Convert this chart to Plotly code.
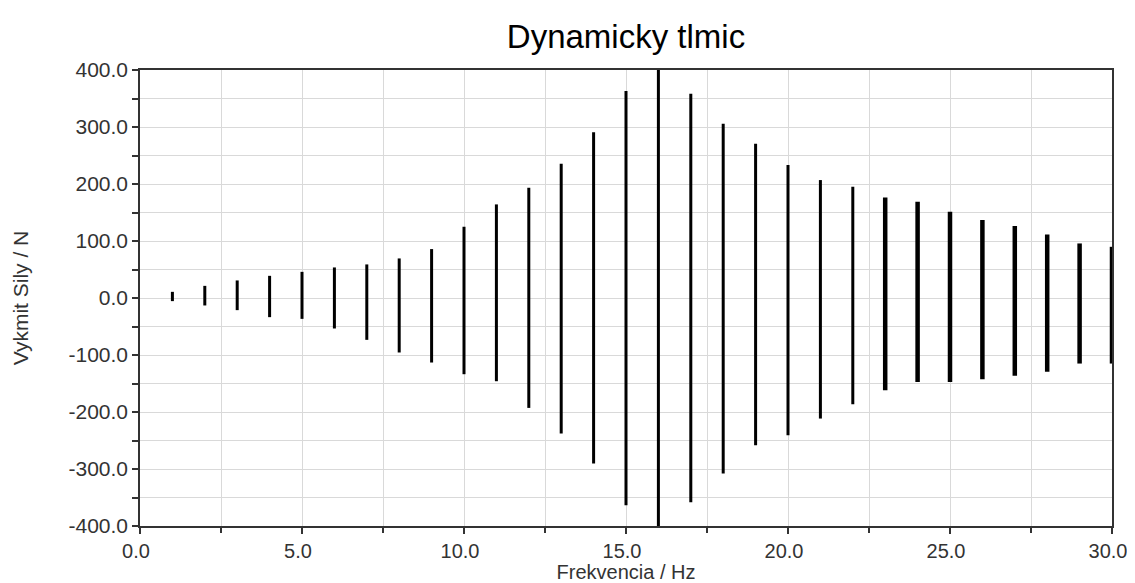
import plotly.graph_objects as go

# Data (frequency in Hz, force amplitude upper/lower in N)
freq = list(range(1, 31))
upper = [10.8, 21.3, 30.8, 38.9, 45.9, 53.6, 58.9, 69.4, 85.8, 125.0,
         164.2, 193.4, 235.5, 290.6, 363.1, 400.0, 358.4, 305.8, 270.7, 233.2,
         206.9, 195.2, 176.5, 168.8, 151.3, 136.7, 126.1, 111.5, 95.7, 89.8]
lower = [-5.5, -13.1, -21.3, -33.6, -36.6, -53.5, -73.4, -95.6, -113.2, -133.7,
         -146.0, -192.8, -237.9, -290.5, -363.7, -400.0, -358.4, -308.0, -258.3, -240.8,
         -211.5, -186.4, -161.8, -147.2, -147.2, -142.5, -136.6, -129.6, -115.0, -115.0]
# bars from 23 Hz on are drawn thicker in the reference
thick_from = 23

# tick labels
x_tickvals = [0, 5, 10, 15, 20, 25, 30]
x_ticktext = ["0.0", "5.0", "10.0", "15.0", "20.0", "25.0", "30.0"]
y_tickvals = [-400, -300, -200, -100, 0, 100, 200, 300, 400]
y_ticktext = ["-400.0", "-300.0", "-200.0", "-100.0", "0.0", "100.0", "200.0", "300.0", "400.0"]

FONT = "Liberation Sans, Arial, sans-serif"

def segs(sel):
    xs, ys = [], []
    for f, u, l in zip(freq, upper, lower):
        if sel(f):
            xs += [f, f, None]
            ys += [l, u, None]
    return xs, ys

fig = go.Figure()
x1, y1 = segs(lambda f: f < thick_from)
x2, y2 = segs(lambda f: f >= thick_from)
fig.add_trace(go.Scatter(x=x1, y=y1, mode="lines", line=dict(color="black", width=3),
                         showlegend=False, hoverinfo="skip"))
fig.add_trace(go.Scatter(x=x2, y=y2, mode="lines", line=dict(color="black", width=4.5),
                         showlegend=False, hoverinfo="skip"))

axis_common = dict(
    showline=True, linecolor="#333333", linewidth=1.5, mirror=True,
    ticks="outside", ticklen=6, tickcolor="#333333", tickwidth=1.5,
    showgrid=True, gridcolor="#d9d9d9", gridwidth=1,
    zeroline=False, automargin=False, tickmode="array",
)

fig.update_layout(
    width=1127, height=575,
    paper_bgcolor="white", plot_bgcolor="white",
    margin=dict(l=132, r=23, t=62, b=57),
    title=dict(text="Dynamicky tlmic", x=0.5, xanchor="center", xref="paper",
               y=0.951, yanchor="middle", yref="container",
               font=dict(family=FONT, size=33, color="black")),
    xaxis=dict(range=[0, 30], tickvals=x_tickvals, ticktext=x_ticktext,
               tickfont=dict(family=FONT, size=20, color="#333333"),
               ticklabelshift=-4,
               minor=dict(dtick=2.5, tick0=0, ticks="outside", ticklen=5, tickcolor="#333333",
                          showgrid=True, gridcolor="#d9d9d9"),
               title=dict(text="Frekvencia / Hz", standoff=0,
                          font=dict(family=FONT, size=20, color="#333333")),
               **axis_common),
    yaxis=dict(range=[-400, 400], tickvals=y_tickvals, ticktext=y_ticktext,
               tickfont=dict(family=FONT, size=21, color="#333333"),
               minor=dict(dtick=50, tick0=0, ticks="outside", ticklen=6, tickcolor="#333333",
                          showgrid=True, gridcolor="#d9d9d9"),
               title=dict(text="Vykmit Sily / N", standoff=34,
                          font=dict(family=FONT, size=21, color="#333333")),
               **axis_common),
)

fig.write_html("out.html")
